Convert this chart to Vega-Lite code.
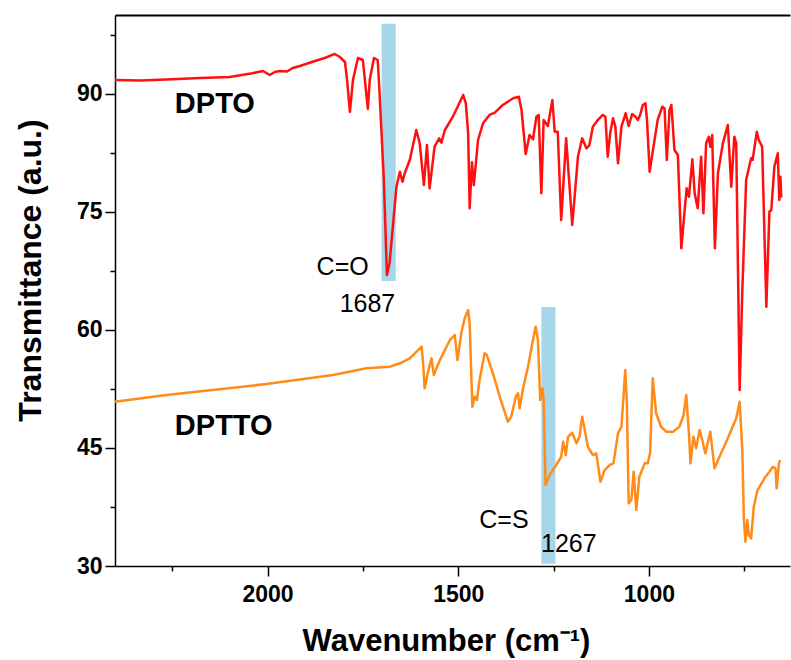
{
  "$schema": "https://vega.github.io/schema/vega-lite/v6.json",
  "width": 675,
  "height": 551,
  "autosize": {"type": "none"},
  "padding": {"left": 115, "top": 15, "right": 1, "bottom": 94},
  "background": "white",
  "config": {"view": {"stroke": null}, "font": "Liberation Sans"},
  "datasets": {
    "bands": [
      {"label": "C=O", "x1": 1701, "x2": 1664, "y1": 66.2, "y2": 98.9},
      {"label": "C=S", "x1": 1282, "x2": 1245, "y1": 30.3, "y2": 62.9}
    ],
    "names": [
      {"text": "DPTO", "wn": 2243, "t": 87.55},
      {"text": "DPTTO", "wn": 2243, "t": 46.64}
    ],
    "notes": [
      {"text": "C=O", "wn": 1803, "t": 66.97},
      {"text": "1687", "wn": 1738, "t": 62.27},
      {"text": "C=S", "wn": 1380, "t": 34.82},
      {"text": "1267", "wn": 1210, "t": 31.77}
    ],
    "spectra": [
      {"s": "DPTO", "wn": 2400, "t": 91.74}, {"s": "DPTO", "wn": 2334, "t": 91.68}, {"s": "DPTO", "wn": 2250, "t": 91.85}, {"s": "DPTO", "wn": 2177, "t": 92.0}, {"s": "DPTO", "wn": 2099, "t": 92.12}, {"s": "DPTO", "wn": 2040, "t": 92.6}, {"s": "DPTO", "wn": 2012, "t": 92.89}, {"s": "DPTO", "wn": 1994, "t": 92.38}, {"s": "DPTO", "wn": 1981, "t": 92.76}, {"s": "DPTO", "wn": 1968, "t": 92.89}, {"s": "DPTO", "wn": 1949, "t": 92.82}, {"s": "DPTO", "wn": 1934, "t": 93.27}, {"s": "DPTO", "wn": 1915, "t": 93.52}, {"s": "DPTO", "wn": 1876, "t": 94.16}, {"s": "DPTO", "wn": 1850, "t": 94.54}, {"s": "DPTO", "wn": 1824, "t": 95.05}, {"s": "DPTO", "wn": 1810, "t": 94.66}, {"s": "DPTO", "wn": 1797, "t": 94.03}, {"s": "DPTO", "wn": 1792, "t": 92.0}, {"s": "DPTO", "wn": 1784, "t": 87.68}, {"s": "DPTO", "wn": 1776, "t": 91.74}, {"s": "DPTO", "wn": 1763, "t": 94.54}, {"s": "DPTO", "wn": 1750, "t": 94.28}, {"s": "DPTO", "wn": 1737, "t": 88.06}, {"s": "DPTO", "wn": 1732, "t": 91.74}, {"s": "DPTO", "wn": 1721, "t": 94.54}, {"s": "DPTO", "wn": 1711, "t": 94.28}, {"s": "DPTO", "wn": 1706, "t": 89.84}, {"s": "DPTO", "wn": 1695, "t": 79.04}, {"s": "DPTO", "wn": 1687, "t": 66.97}, {"s": "DPTO", "wn": 1680, "t": 68.5}, {"s": "DPTO", "wn": 1662, "t": 78.19}, {"s": "DPTO", "wn": 1653, "t": 80.09}, {"s": "DPTO", "wn": 1646, "t": 78.82}, {"s": "DPTO", "wn": 1640, "t": 79.93}, {"s": "DPTO", "wn": 1627, "t": 81.58}, {"s": "DPTO", "wn": 1610, "t": 85.39}, {"s": "DPTO", "wn": 1601, "t": 83.7}, {"s": "DPTO", "wn": 1590, "t": 78.4}, {"s": "DPTO", "wn": 1582, "t": 83.48}, {"s": "DPTO", "wn": 1575, "t": 77.98}, {"s": "DPTO", "wn": 1562, "t": 83.27}, {"s": "DPTO", "wn": 1550, "t": 84.33}, {"s": "DPTO", "wn": 1544, "t": 83.78}, {"s": "DPTO", "wn": 1535, "t": 85.39}, {"s": "DPTO", "wn": 1514, "t": 87.08}, {"s": "DPTO", "wn": 1487, "t": 89.84}, {"s": "DPTO", "wn": 1480, "t": 88.78}, {"s": "DPTO", "wn": 1474, "t": 84.97}, {"s": "DPTO", "wn": 1470, "t": 75.44}, {"s": "DPTO", "wn": 1464, "t": 81.29}, {"s": "DPTO", "wn": 1459, "t": 78.4}, {"s": "DPTO", "wn": 1448, "t": 84.12}, {"s": "DPTO", "wn": 1435, "t": 86.24}, {"s": "DPTO", "wn": 1418, "t": 87.3}, {"s": "DPTO", "wn": 1404, "t": 87.59}, {"s": "DPTO", "wn": 1383, "t": 88.57}, {"s": "DPTO", "wn": 1356, "t": 89.42}, {"s": "DPTO", "wn": 1341, "t": 89.62}, {"s": "DPTO", "wn": 1334, "t": 87.93}, {"s": "DPTO", "wn": 1323, "t": 82.34}, {"s": "DPTO", "wn": 1313, "t": 84.75}, {"s": "DPTO", "wn": 1304, "t": 84.21}, {"s": "DPTO", "wn": 1295, "t": 87.08}, {"s": "DPTO", "wn": 1289, "t": 87.3}, {"s": "DPTO", "wn": 1282, "t": 77.35}, {"s": "DPTO", "wn": 1276, "t": 86.66}, {"s": "DPTO", "wn": 1265, "t": 85.9}, {"s": "DPTO", "wn": 1253, "t": 89.2}, {"s": "DPTO", "wn": 1247, "t": 85.17}, {"s": "DPTO", "wn": 1239, "t": 85.17}, {"s": "DPTO", "wn": 1230, "t": 73.95}, {"s": "DPTO", "wn": 1217, "t": 84.33}, {"s": "DPTO", "wn": 1201, "t": 73.32}, {"s": "DPTO", "wn": 1186, "t": 82.0}, {"s": "DPTO", "wn": 1175, "t": 84.33}, {"s": "DPTO", "wn": 1164, "t": 83.06}, {"s": "DPTO", "wn": 1156, "t": 83.48}, {"s": "DPTO", "wn": 1147, "t": 85.81}, {"s": "DPTO", "wn": 1134, "t": 86.66}, {"s": "DPTO", "wn": 1121, "t": 87.3}, {"s": "DPTO", "wn": 1114, "t": 87.08}, {"s": "DPTO", "wn": 1108, "t": 82.0}, {"s": "DPTO", "wn": 1101, "t": 85.17}, {"s": "DPTO", "wn": 1094, "t": 86.88}, {"s": "DPTO", "wn": 1088, "t": 85.81}, {"s": "DPTO", "wn": 1081, "t": 81.16}, {"s": "DPTO", "wn": 1072, "t": 85.81}, {"s": "DPTO", "wn": 1061, "t": 87.51}, {"s": "DPTO", "wn": 1053, "t": 85.9}, {"s": "DPTO", "wn": 1044, "t": 87.42}, {"s": "DPTO", "wn": 1035, "t": 87.08}, {"s": "DPTO", "wn": 1029, "t": 86.66}, {"s": "DPTO", "wn": 1023, "t": 87.3}, {"s": "DPTO", "wn": 1016, "t": 88.57}, {"s": "DPTO", "wn": 1009, "t": 88.78}, {"s": "DPTO", "wn": 1005, "t": 86.66}, {"s": "DPTO", "wn": 998, "t": 80.09}, {"s": "DPTO", "wn": 988, "t": 83.27}, {"s": "DPTO", "wn": 977, "t": 86.66}, {"s": "DPTO", "wn": 965, "t": 88.35}, {"s": "DPTO", "wn": 959, "t": 88.15}, {"s": "DPTO", "wn": 953, "t": 81.58}, {"s": "DPTO", "wn": 946, "t": 87.93}, {"s": "DPTO", "wn": 941, "t": 88.57}, {"s": "DPTO", "wn": 933, "t": 82.85}, {"s": "DPTO", "wn": 924, "t": 82.21}, {"s": "DPTO", "wn": 915, "t": 70.36}, {"s": "DPTO", "wn": 907, "t": 74.81}, {"s": "DPTO", "wn": 901, "t": 77.98}, {"s": "DPTO", "wn": 895, "t": 76.91}, {"s": "DPTO", "wn": 886, "t": 81.67}, {"s": "DPTO", "wn": 880, "t": 77.35}, {"s": "DPTO", "wn": 872, "t": 75.44}, {"s": "DPTO", "wn": 863, "t": 82.0}, {"s": "DPTO", "wn": 857, "t": 74.81}, {"s": "DPTO", "wn": 850, "t": 83.7}, {"s": "DPTO", "wn": 843, "t": 84.54}, {"s": "DPTO", "wn": 839, "t": 83.27}, {"s": "DPTO", "wn": 834, "t": 84.75}, {"s": "DPTO", "wn": 827, "t": 70.36}, {"s": "DPTO", "wn": 819, "t": 79.89}, {"s": "DPTO", "wn": 806, "t": 83.7}, {"s": "DPTO", "wn": 793, "t": 86.02}, {"s": "DPTO", "wn": 784, "t": 78.19}, {"s": "DPTO", "wn": 776, "t": 84.54}, {"s": "DPTO", "wn": 771, "t": 83.7}, {"s": "DPTO", "wn": 762, "t": 52.36}, {"s": "DPTO", "wn": 755, "t": 65.06}, {"s": "DPTO", "wn": 745, "t": 79.04}, {"s": "DPTO", "wn": 732, "t": 81.79}, {"s": "DPTO", "wn": 728, "t": 81.58}, {"s": "DPTO", "wn": 717, "t": 85.17}, {"s": "DPTO", "wn": 712, "t": 84.12}, {"s": "DPTO", "wn": 703, "t": 83.27}, {"s": "DPTO", "wn": 692, "t": 62.94}, {"s": "DPTO", "wn": 684, "t": 75.01}, {"s": "DPTO", "wn": 679, "t": 75.23}, {"s": "DPTO", "wn": 671, "t": 80.73}, {"s": "DPTO", "wn": 662, "t": 82.43}, {"s": "DPTO", "wn": 658, "t": 76.5}, {"s": "DPTO", "wn": 655, "t": 79.46}, {"s": "DPTO", "wn": 653, "t": 76.8},
      {"s": "DPTTO", "wn": 2400, "t": 50.87}, {"s": "DPTTO", "wn": 2265, "t": 51.72}, {"s": "DPTTO", "wn": 2003, "t": 53.12}, {"s": "DPTTO", "wn": 1828, "t": 54.26}, {"s": "DPTTO", "wn": 1741, "t": 55.11}, {"s": "DPTTO", "wn": 1680, "t": 55.32}, {"s": "DPTTO", "wn": 1653, "t": 55.75}, {"s": "DPTTO", "wn": 1627, "t": 56.38}, {"s": "DPTTO", "wn": 1596, "t": 57.86}, {"s": "DPTTO", "wn": 1592, "t": 55.75}, {"s": "DPTTO", "wn": 1588, "t": 52.57}, {"s": "DPTTO", "wn": 1579, "t": 54.68}, {"s": "DPTTO", "wn": 1570, "t": 56.38}, {"s": "DPTTO", "wn": 1564, "t": 54.26}, {"s": "DPTTO", "wn": 1548, "t": 56.17}, {"s": "DPTTO", "wn": 1522, "t": 58.71}, {"s": "DPTTO", "wn": 1509, "t": 59.34}, {"s": "DPTTO", "wn": 1502, "t": 56.17}, {"s": "DPTTO", "wn": 1492, "t": 59.56}, {"s": "DPTTO", "wn": 1483, "t": 61.47}, {"s": "DPTTO", "wn": 1474, "t": 62.52}, {"s": "DPTTO", "wn": 1470, "t": 60.83}, {"s": "DPTTO", "wn": 1463, "t": 50.23}, {"s": "DPTTO", "wn": 1457, "t": 51.5}, {"s": "DPTTO", "wn": 1451, "t": 51.09}, {"s": "DPTTO", "wn": 1444, "t": 53.63}, {"s": "DPTTO", "wn": 1431, "t": 57.02}, {"s": "DPTTO", "wn": 1425, "t": 56.8}, {"s": "DPTTO", "wn": 1409, "t": 54.48}, {"s": "DPTTO", "wn": 1391, "t": 51.5}, {"s": "DPTTO", "wn": 1370, "t": 48.33}, {"s": "DPTTO", "wn": 1361, "t": 48.96}, {"s": "DPTTO", "wn": 1349, "t": 51.5}, {"s": "DPTTO", "wn": 1343, "t": 51.94}, {"s": "DPTTO", "wn": 1339, "t": 50.03}, {"s": "DPTTO", "wn": 1330, "t": 52.57}, {"s": "DPTTO", "wn": 1317, "t": 55.32}, {"s": "DPTTO", "wn": 1304, "t": 58.71}, {"s": "DPTTO", "wn": 1297, "t": 60.4}, {"s": "DPTTO", "wn": 1291, "t": 58.71}, {"s": "DPTTO", "wn": 1285, "t": 51.09}, {"s": "DPTTO", "wn": 1279, "t": 52.57}, {"s": "DPTTO", "wn": 1276, "t": 51.09}, {"s": "DPTTO", "wn": 1271, "t": 40.29}, {"s": "DPTTO", "wn": 1260, "t": 41.56}, {"s": "DPTTO", "wn": 1243, "t": 42.83}, {"s": "DPTTO", "wn": 1230, "t": 43.88}, {"s": "DPTTO", "wn": 1225, "t": 45.79}, {"s": "DPTTO", "wn": 1218, "t": 44.1}, {"s": "DPTTO", "wn": 1212, "t": 46.42}, {"s": "DPTTO", "wn": 1201, "t": 46.93}, {"s": "DPTTO", "wn": 1190, "t": 45.58}, {"s": "DPTTO", "wn": 1182, "t": 46.42}, {"s": "DPTTO", "wn": 1175, "t": 48.96}, {"s": "DPTTO", "wn": 1169, "t": 47.49}, {"s": "DPTTO", "wn": 1160, "t": 45.15}, {"s": "DPTTO", "wn": 1147, "t": 44.1}, {"s": "DPTTO", "wn": 1138, "t": 44.31}, {"s": "DPTTO", "wn": 1127, "t": 40.71}, {"s": "DPTTO", "wn": 1116, "t": 42.19}, {"s": "DPTTO", "wn": 1103, "t": 42.83}, {"s": "DPTTO", "wn": 1093, "t": 43.04}, {"s": "DPTTO", "wn": 1081, "t": 46.85}, {"s": "DPTTO", "wn": 1072, "t": 47.69}, {"s": "DPTTO", "wn": 1062, "t": 54.9}, {"s": "DPTTO", "wn": 1058, "t": 51.09}, {"s": "DPTTO", "wn": 1053, "t": 37.96}, {"s": "DPTTO", "wn": 1046, "t": 38.38}, {"s": "DPTTO", "wn": 1040, "t": 41.98}, {"s": "DPTTO", "wn": 1033, "t": 37.11}, {"s": "DPTTO", "wn": 1025, "t": 41.34}, {"s": "DPTTO", "wn": 1011, "t": 43.04}, {"s": "DPTTO", "wn": 1003, "t": 43.04}, {"s": "DPTTO", "wn": 997, "t": 44.31}, {"s": "DPTTO", "wn": 990, "t": 53.84}, {"s": "DPTTO", "wn": 981, "t": 49.4}, {"s": "DPTTO", "wn": 968, "t": 47.69}, {"s": "DPTTO", "wn": 955, "t": 47.06}, {"s": "DPTTO", "wn": 937, "t": 47.06}, {"s": "DPTTO", "wn": 920, "t": 47.69}, {"s": "DPTTO", "wn": 909, "t": 49.18}, {"s": "DPTTO", "wn": 902, "t": 51.72}, {"s": "DPTTO", "wn": 895, "t": 46.85}, {"s": "DPTTO", "wn": 891, "t": 43.04}, {"s": "DPTTO", "wn": 883, "t": 46.42}, {"s": "DPTTO", "wn": 876, "t": 44.95}, {"s": "DPTTO", "wn": 867, "t": 47.27}, {"s": "DPTTO", "wn": 860, "t": 46.0}, {"s": "DPTTO", "wn": 852, "t": 44.31}, {"s": "DPTTO", "wn": 839, "t": 47.06}, {"s": "DPTTO", "wn": 828, "t": 42.41}, {"s": "DPTTO", "wn": 815, "t": 43.88}, {"s": "DPTTO", "wn": 797, "t": 45.79}, {"s": "DPTTO", "wn": 771, "t": 48.76}, {"s": "DPTTO", "wn": 762, "t": 50.87}, {"s": "DPTTO", "wn": 755, "t": 44.73}, {"s": "DPTTO", "wn": 751, "t": 36.06}, {"s": "DPTTO", "wn": 747, "t": 33.08}, {"s": "DPTTO", "wn": 742, "t": 35.84}, {"s": "DPTTO", "wn": 738, "t": 33.93}, {"s": "DPTTO", "wn": 732, "t": 33.51}, {"s": "DPTTO", "wn": 725, "t": 37.53}, {"s": "DPTTO", "wn": 715, "t": 39.65}, {"s": "DPTTO", "wn": 697, "t": 41.14}, {"s": "DPTTO", "wn": 684, "t": 41.98}, {"s": "DPTTO", "wn": 675, "t": 42.61}, {"s": "DPTTO", "wn": 668, "t": 42.41}, {"s": "DPTTO", "wn": 665, "t": 39.87}, {"s": "DPTTO", "wn": 659, "t": 43.04}, {"s": "DPTTO", "wn": 656, "t": 43.46}
    ]
  },
  "layer": [
    {
      "data": {"name": "bands"},
      "mark": {"type": "rect", "color": "#a6d6ea"},
      "encoding": {
        "x": {
          "field": "x1", "type": "quantitative",
          "scale": {"domain": [630, 2400], "reverse": true, "zero": false, "nice": false},
          "axis": {
            "orient": "bottom",
            "values": [2000, 1500, 1000], "format": "d", "grid": false,
            "labelFont": "Liberation Sans", "labelFontSize": 23, "labelFontWeight": "bold", "labelColor": "black", "labelPadding": 7,
            "tickSize": 10, "tickWidth": 1.5, "tickColor": "black",
            "domainColor": "black", "domainWidth": 1.5,
            "title": "Wavenumber (cm⁻¹)", "titleFont": "Liberation Sans", "titleFontSize": 31, "titleFontWeight": "bold", "titleColor": "black",
            "titleX": 331, "titleY": 84, "titleAlign": "center", "titleBaseline": "alphabetic"
          }
        },
        "x2": {"field": "x2"},
        "y": {
          "field": "y1", "type": "quantitative",
          "scale": {"domain": [30, 100], "zero": false, "nice": false},
          "axis": {
            "orient": "left",
            "values": [30, 45, 60, 75, 90], "grid": false,
            "labelFont": "Liberation Sans", "labelFontSize": 23, "labelFontWeight": "bold", "labelColor": "black", "labelPadding": 3,
            "tickSize": 10, "tickWidth": 1.5, "tickColor": "black",
            "domainColor": "black", "domainWidth": 1.5,
            "title": "Transmittance (a.u.)", "titleFont": "Liberation Sans", "titleFontSize": 32, "titleFontWeight": "bold", "titleColor": "black",
            "titleX": -75, "titleY": 255, "titleAngle": -90, "titleAlign": "center", "titleBaseline": "alphabetic"
          }
        },
        "y2": {"field": "y2"}
      }
    },
    {
      "data": {"name": "spectra"},
      "mark": {"type": "line", "strokeWidth": 2.5, "strokeJoin": "round"},
      "encoding": {
        "x": {"field": "wn", "type": "quantitative", "axis": {"orient": "bottom", "values": [2250, 1750, 1250, 750], "labels": false, "title": null, "domain": false, "grid": false, "tickSize": 5, "tickWidth": 1.5, "tickColor": "black"}},
        "y": {"field": "t", "type": "quantitative", "axis": {"orient": "left", "values": [37.5, 52.5, 67.5, 82.5, 97.5], "labels": false, "title": null, "domain": false, "grid": false, "tickSize": 5, "tickWidth": 1.5, "tickColor": "black"}},
        "color": {"field": "s", "type": "nominal", "scale": {"domain": ["DPTO", "DPTTO"], "range": ["#ff1010", "#ff8c1a"]}, "legend": null},
        "order": {"field": "wn", "type": "quantitative", "sort": "descending"}
      }
    },
    {
      "data": {"name": "names"},
      "mark": {"type": "text", "font": "Liberation Sans", "fontSize": 29, "fontWeight": "bold", "align": "left", "baseline": "alphabetic", "color": "black"},
      "encoding": {
        "x": {"field": "wn", "type": "quantitative", "axis": {"orient": "top", "labels": false, "ticks": false, "title": null, "grid": false, "domainColor": "black", "domainWidth": 2}},
        "y": {"field": "t", "type": "quantitative", "axis": null},
        "text": {"field": "text"}
      }
    },
    {
      "data": {"name": "notes"},
      "mark": {"type": "text", "font": "Liberation Sans", "fontSize": 25, "align": "center", "baseline": "alphabetic", "color": "black"},
      "encoding": {
        "x": {"field": "wn", "type": "quantitative", "axis": null},
        "y": {"field": "t", "type": "quantitative", "axis": null},
        "text": {"field": "text"}
      }
    }
  ],
  "resolve": {"axis": {"x": "independent", "y": "independent"}}
}
